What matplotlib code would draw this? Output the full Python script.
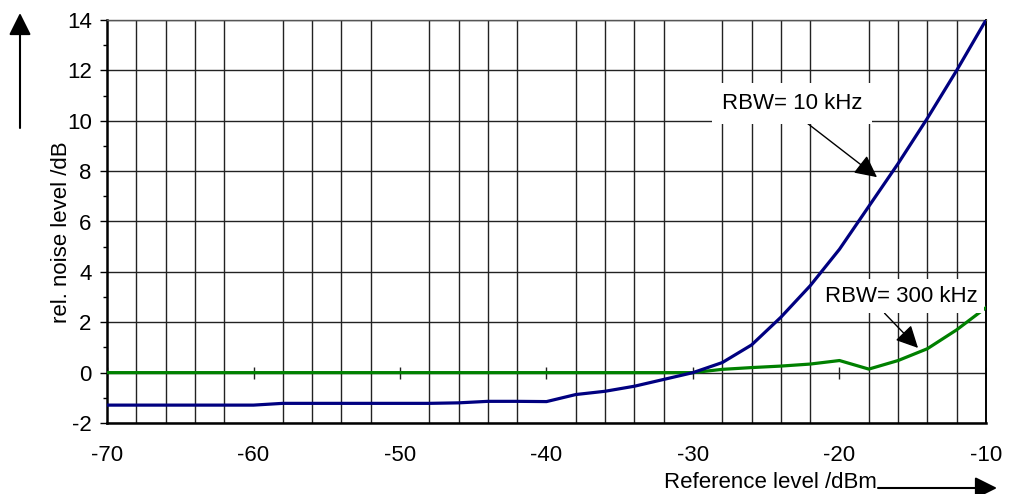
## Noise level vs reference level for two resolution bandwidths
import numpy as np
import matplotlib
matplotlib.use("Agg")
import matplotlib.pyplot as plt
from matplotlib.ticker import MultipleLocator

plt.rcParams['font.family'] = ['Liberation Sans', 'DejaVu Sans']
plt.rcParams['axes.unicode_minus'] = False

## Data
ref_level = [-70, -68, -66, -64, -62, -60, -58, -56, -54, -52, -50, -48, -46, -44,
             -42, -40, -38, -36, -34, -32, -30, -28, -26, -24, -22, -20, -18, -16,
             -14, -12, -10]
noise_10k = [-1.29, -1.29, -1.29, -1.29, -1.29, -1.29, -1.22, -1.22, -1.22, -1.22,
             -1.22, -1.22, -1.2, -1.14, -1.14, -1.15, -0.87, -0.74, -0.54, -0.27,
             0.0, 0.4, 1.1, 2.2, 3.45, 4.9, 6.6, 8.3, 10.1, 12.0, 14.0]
noise_300k = [0.0, 0.0, 0.0, 0.0, 0.0, 0.0, 0.0, 0.0, 0.0, 0.0, 0.0, 0.0, 0.0, 0.0,
              0.0, 0.0, 0.0, 0.0, 0.0, 0.0, 0.0, 0.13, 0.2, 0.26, 0.34, 0.48, 0.14,
              0.48, 0.95, 1.7, 2.58]
x_ticks = [-70, -60, -50, -40, -30, -20, -10]
y_ticks = [-2, 0, 2, 4, 6, 8, 10, 12, 14]

## Figure
fig = plt.figure(figsize=(10.12, 4.94), dpi=100)
ax = fig.add_axes([107 / 1012, 71 / 494, 879 / 1012, 403 / 494])

# blue drawn above the label boxes, green below (the box cuts it near -10 dBm)
ax.plot(ref_level, noise_10k, color='#000080', lw=2.3, zorder=5, solid_joinstyle='round')
ax.plot(ref_level, noise_300k, color='#008000', lw=2.3, zorder=3, solid_joinstyle='round')

# small tick marks on the 0 dB line (axis crossing) at the labelled x positions
ax.plot(x_ticks, [0] * len(x_ticks), ls='none', marker='|', ms=8, mew=1,
        color='#222222', zorder=2)

ax.set_xlim(-70, -10)
ax.set_ylim(-2, 14)
ax.set_xticks(x_ticks)
ax.set_yticks(y_ticks)
ax.xaxis.set_minor_locator(MultipleLocator(2))
ax.yaxis.set_minor_locator(MultipleLocator(1))

ax.grid(True, which='major', axis='y', color='#222222', lw=1.0, zorder=1)
ax.grid(True, which='minor', axis='x', color='#222222', lw=1.0, zorder=1)
ax.tick_params(axis='x', which='both', length=0, pad=16, labelsize=16)
ax.tick_params(axis='y', which='major', direction='out', length=5, width=1, pad=6, labelsize=16)
ax.tick_params(axis='y', which='minor', direction='out', length=3, width=1)

for side in ['left', 'bottom']:
    ax.spines[side].set_linewidth(1.8)
ax.spines['right'].set_linewidth(1.4)
ax.spines['top'].set_linewidth(1.0)
ax.spines['top'].set_color('#555555')

## Curve labels
head = '-|>,head_length=0.9,head_width=0.45'
ax.annotate('RBW= 10 kHz', xy=(-17.44, 7.76), xytext=(-23.24, 10.7), fontsize=16,
            ha='center', va='center', zorder=4,
            bbox=dict(boxstyle='square,pad=0.45', fc='white', ec='none'),
            arrowprops=dict(arrowstyle=head, mutation_scale=15, color='black', lw=1,
                            shrinkA=0, shrinkB=0, relpos=(0.52, 0)))
ax.annotate('RBW= 300 kHz', xy=(-14.64, 0.98), xytext=(-15.8, 3.04), fontsize=16,
            ha='center', va='center', zorder=4,
            bbox=dict(boxstyle='square,pad=0.3', fc='white', ec='none'),
            arrowprops=dict(arrowstyle=head, mutation_scale=15, color='black', lw=1,
                            shrinkA=0, shrinkB=0, relpos=(0.35, 0)))

## Axis labels with arrows
fig.text(62 / 1012, 262 / 494, 'rel. noise level /dB', rotation=90, ha='center', va='center',
         fontsize=16)
fig.text(770 / 1012, 12 / 494, 'Reference level /dBm', ha='center', va='center', fontsize=16)

arrow = dict(arrowstyle=head, mutation_scale=15, color='black', lw=1.5, shrinkA=0, shrinkB=0)
ax.annotate('', xy=(20, 481), xytext=(20, 366), xycoords='figure pixels',
            textcoords='figure pixels', arrowprops=arrow, annotation_clip=False)
ax.annotate('', xy=(997, 6), xytext=(878, 6), xycoords='figure pixels',
            textcoords='figure pixels', arrowprops=arrow, annotation_clip=False)

fig.savefig('out.png', dpi=100)
